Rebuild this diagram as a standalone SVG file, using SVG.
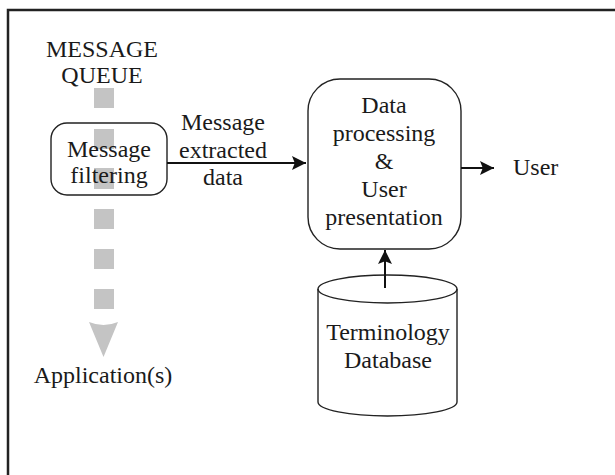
<svg xmlns="http://www.w3.org/2000/svg" width="615" height="475" viewBox="0 0 615 475">
  <style>
    text { font-family: "Liberation Serif", "Times New Roman", serif; font-size: 24px; fill: #1a1a1a; }
    .mid { text-anchor: middle; }
    .box { fill: none; stroke: #222; stroke-width: 1.4; }
    .conn { stroke: #111; stroke-width: 2; fill: none; }
    .queue { fill: #c4c4c4; }
  </style>
  <defs>
    <marker id="arrow" viewBox="0 0 10 10" refX="10" refY="5" markerWidth="7" markerHeight="7" markerUnits="strokeWidth" orient="auto">
      <path d="M0,0 L10,5 L0,10 L2,5 Z" fill="#111"/>
    </marker>
  </defs>

  <!-- outer frame (top and left edges) -->
  <path d="M8,475 L8,10 L615,10" fill="none" stroke="#222" stroke-width="2.5"/>

  <!-- message queue: dashed grey flow down to applications -->
  <g id="queue">
    <text class="mid" x="102" y="57">MESSAGE</text>
    <text class="mid" x="102" y="83">QUEUE</text>
    <rect class="queue" x="94" y="88" width="20" height="20"/>
    <rect class="queue" x="94" y="129" width="20" height="20"/>
    <rect class="queue" x="94" y="168" width="20" height="21"/>
    <rect class="queue" x="94" y="209" width="20" height="20"/>
    <rect class="queue" x="94" y="249" width="20" height="20"/>
    <rect class="queue" x="94" y="289" width="20" height="20"/>
    <path class="queue" d="M89,322 Q103.5,328 118,322 L103.5,357 Z"/>
    <text class="mid" x="103" y="383">Application(s)</text>
  </g>

  <g id="filter">
    <rect class="box" x="51" y="123" width="116" height="72" rx="16"/>
    <text class="mid" x="109" y="157">Message</text>
    <text class="mid" x="109" y="183">filtering</text>
  </g>

  <g id="processing">
    <rect class="box" x="308" y="79" width="153" height="170" rx="32"/>
    <text class="mid" x="384" y="113">Data</text>
    <text class="mid" x="384" y="141">processing</text>
    <text class="mid" x="384" y="169">&amp;</text>
    <text class="mid" x="384" y="197">User</text>
    <text class="mid" x="384" y="225">presentation</text>
  </g>

  <g id="user">
    <text x="513" y="175">User</text>
  </g>

  <g id="database">
    <path class="box" d="M318,289 L318,402 A69.5,14 0 0 0 457,402 L457,289"/>
    <ellipse class="box" cx="387.5" cy="289" rx="69.5" ry="14"/>
    <text class="mid" x="388" y="340">Terminology</text>
    <text class="mid" x="388" y="368">Database</text>
  </g>

  <g id="connectors">
    <line class="conn" x1="167" y1="163" x2="306" y2="163" marker-end="url(#arrow)"/>
    <line class="conn" x1="461" y1="168" x2="494" y2="168" marker-end="url(#arrow)"/>
    <line class="conn" x1="385" y1="288" x2="385" y2="250" marker-end="url(#arrow)"/>
    <text class="mid" x="223" y="130">Message</text>
    <text class="mid" x="223" y="158">extracted</text>
    <text class="mid" x="223" y="185">data</text>
  </g>
</svg>
